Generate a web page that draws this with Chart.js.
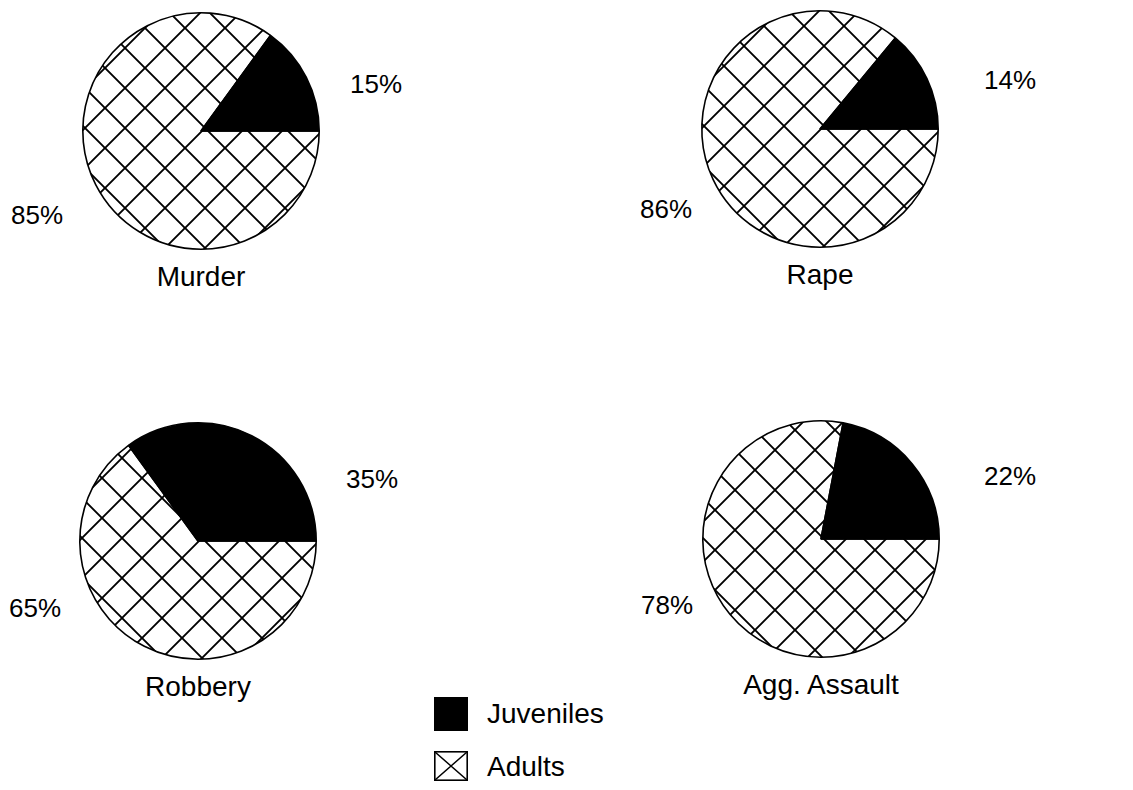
<!DOCTYPE html>
<html>
<head>
<meta charset="utf-8">
<script src="https://cdn.jsdelivr.net/npm/chart.js@4.4.1/dist/chart.umd.min.js"></script>
<style>
  body { margin: 0; background: #fff; }
  #page { position: relative; width: 1133px; height: 790px; overflow: hidden; background: #fff; }
  #page canvas { position: absolute; }
  .lbl {
    position: absolute;
    font-family: "Liberation Sans", Arial, sans-serif;
    font-size: 26px;
    line-height: 1;
    color: #000;
    white-space: nowrap;
    transform: translate(-50%, -50%);
  }
  .ttl { font-size: 28px; }
  .leg { transform: translate(0, -50%); }
</style>
</head>
<body>
<div id="page"></div>
<script>
// data
const crimes = ['Murder', 'Rape', 'Robbery', 'Agg. Assault'];
const juveniles = [15, 14, 35, 22];
const adults = [85, 86, 65, 78];
const groups = ['Juveniles', 'Adults'];

// where each pie sits on the page (centre), and the label spots around it
const centres = [[201, 131], [820, 129], [198, 541], [821, 539]];
const juvLabelPos = [[376, 84], [1010, 80], [372, 479], [1010, 476]];
const adultLabelPos = [[37, 215], [666, 209], [35, 608], [667, 605]];
const hatchOffset = [[4, -3], [4, -3], [4, -3], [-6, -9]];

const SIZE = 250;
const page = document.getElementById('page');

function hatch(ctx, ox, oy) {
    const t = document.createElement('canvas');
    t.width = 40; t.height = 40;
    const c = t.getContext('2d');
    c.fillStyle = '#fff';
    c.fillRect(0, 0, 40, 40);
    c.strokeStyle = '#000';
    c.lineWidth = 1.9;
    c.beginPath();
    c.moveTo(-2, -2); c.lineTo(42, 42);
    c.moveTo(42, -2); c.lineTo(-2, 42);
    c.stroke();
    const p = ctx.createPattern(t, 'repeat');
    // put a crossing at the offset from the pie centre
    const tx = ((SIZE / 2 + ox - 20) % 40 + 40) % 40;
    const ty = ((SIZE / 2 + oy - 20) % 40 + 40) % 40;
    p.setTransform(new DOMMatrix().translate(tx, ty));
    return p;
}

function addLabel(text, x, y, cls) {
    const d = document.createElement('div');
    d.className = 'lbl' + (cls ? ' ' + cls : '');
    d.textContent = text;
    d.style.left = x + 'px';
    d.style.top = y + 'px';
    page.appendChild(d);
}

crimes.forEach(function (name, i) {
    const cv = document.createElement('canvas');
    cv.width = SIZE; cv.height = SIZE;
    cv.style.left = (centres[i][0] - SIZE / 2) + 'px';
    cv.style.top = (centres[i][1] - SIZE / 2) + 'px';
    page.appendChild(cv);
    const ctx = cv.getContext('2d');

    new Chart(ctx, {
        type: 'pie',
        data: {
            labels: ['Adults', 'Juveniles'],
            datasets: [{
                data: [adults[i], juveniles[i]],
                backgroundColor: [hatch(ctx, hatchOffset[i][0], hatchOffset[i][1]), '#000'],
                borderColor: '#000',
                borderWidth: 1.6
            }]
        },
        options: {
            responsive: false,
            animation: false,
            rotation: 90, // adults start at 3 o'clock, so juveniles end there
            layout: { padding: 6 },
            plugins: {
                legend: { display: false },
                tooltip: { enabled: false }
            }
        }
    });

    addLabel(juveniles[i] + '%', juvLabelPos[i][0], juvLabelPos[i][1]);
    addLabel(adults[i] + '%', adultLabelPos[i][0], adultLabelPos[i][1]);
    addLabel(name, centres[i][0], centres[i][1] + 146, 'ttl');
});

// legend
const boxJ = document.createElement('canvas');
boxJ.width = 34; boxJ.height = 34;
boxJ.style.left = '434px'; boxJ.style.top = '697px';
page.appendChild(boxJ);
let c = boxJ.getContext('2d');
c.fillStyle = '#000';
c.fillRect(0, 0, 34, 34);

const boxA = document.createElement('canvas');
boxA.width = 34; boxA.height = 30;
boxA.style.left = '434px'; boxA.style.top = '751px';
page.appendChild(boxA);
c = boxA.getContext('2d');
c.strokeStyle = '#000';
c.lineWidth = 1.6;
c.strokeRect(0.8, 0.8, 32.4, 28.4);
c.beginPath();
c.moveTo(1, 1); c.lineTo(33, 29);
c.moveTo(33, 1); c.lineTo(1, 29);
c.stroke();

addLabel(groups[0], 487, 714, 'leg ttl');
addLabel(groups[1], 487, 767, 'leg ttl');
</script>
</body>
</html>
